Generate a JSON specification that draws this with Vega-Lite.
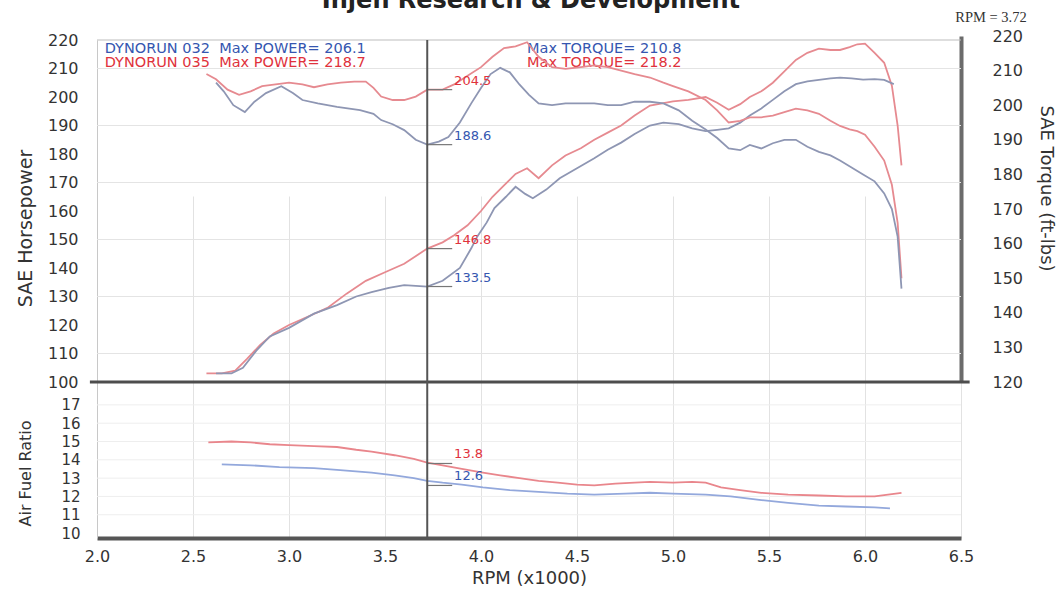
{
"$schema": "https://vega.github.io/schema/vega-lite/v6.json",
"width": 864, "height": 498,
"autosize": {"type": "none"},
"padding": {"left": 97, "top": 40, "right": 97, "bottom": 60},
"background": "white",
"config": {"view": {"stroke": null}, "font": "DejaVu Sans"},
"datasets": {
"hpgrid": [{"g":110},{"g":130},{"g":150},{"g":170},{"g":190},{"g":210}],
"afrgrid": [{"g":11},{"g":12},{"g":13},{"g":14},{"g":15},{"g":16},{"g":17}],
"hp": [
{"rpm":2.57,"v":103,"run":"035"},{"rpm":2.65,"v":103,"run":"035"},{"rpm":2.72,"v":104,"run":"035"},{"rpm":2.78,"v":108,"run":"035"},{"rpm":2.85,"v":113,"run":"035"},{"rpm":2.92,"v":117,"run":"035"},{"rpm":3.0,"v":120,"run":"035"},{"rpm":3.1,"v":123,"run":"035"},{"rpm":3.2,"v":126,"run":"035"},{"rpm":3.3,"v":131,"run":"035"},{"rpm":3.4,"v":135.5,"run":"035"},{"rpm":3.5,"v":138.5,"run":"035"},{"rpm":3.6,"v":141.5,"run":"035"},{"rpm":3.72,"v":146.8,"run":"035"},{"rpm":3.8,"v":149,"run":"035"},{"rpm":3.86,"v":151.5,"run":"035"},{"rpm":3.93,"v":155,"run":"035"},{"rpm":4.0,"v":160,"run":"035"},{"rpm":4.06,"v":165,"run":"035"},{"rpm":4.12,"v":169,"run":"035"},{"rpm":4.18,"v":173,"run":"035"},{"rpm":4.24,"v":175,"run":"035"},{"rpm":4.3,"v":171.5,"run":"035"},{"rpm":4.37,"v":176,"run":"035"},{"rpm":4.44,"v":179.5,"run":"035"},{"rpm":4.52,"v":182,"run":"035"},{"rpm":4.59,"v":185,"run":"035"},{"rpm":4.66,"v":187.5,"run":"035"},{"rpm":4.73,"v":190,"run":"035"},{"rpm":4.8,"v":193.5,"run":"035"},{"rpm":4.88,"v":197,"run":"035"},{"rpm":5.0,"v":198.5,"run":"035"},{"rpm":5.08,"v":199,"run":"035"},{"rpm":5.17,"v":200,"run":"035"},{"rpm":5.23,"v":198,"run":"035"},{"rpm":5.29,"v":195.5,"run":"035"},{"rpm":5.35,"v":197.5,"run":"035"},{"rpm":5.4,"v":200,"run":"035"},{"rpm":5.46,"v":202,"run":"035"},{"rpm":5.52,"v":205,"run":"035"},{"rpm":5.58,"v":209,"run":"035"},{"rpm":5.64,"v":213,"run":"035"},{"rpm":5.7,"v":215.5,"run":"035"},{"rpm":5.76,"v":217,"run":"035"},{"rpm":5.82,"v":216.5,"run":"035"},{"rpm":5.87,"v":216.5,"run":"035"},{"rpm":5.92,"v":217.5,"run":"035"},{"rpm":5.96,"v":218.5,"run":"035"},{"rpm":6.0,"v":218.7,"run":"035"},{"rpm":6.05,"v":215.5,"run":"035"},{"rpm":6.1,"v":212,"run":"035"},{"rpm":6.14,"v":204,"run":"035"},{"rpm":6.17,"v":190,"run":"035"},{"rpm":6.19,"v":176,"run":"035"},
{"rpm":2.62,"v":103,"run":"032"},{"rpm":2.7,"v":103,"run":"032"},{"rpm":2.76,"v":105,"run":"032"},{"rpm":2.83,"v":111,"run":"032"},{"rpm":2.9,"v":116,"run":"032"},{"rpm":3.0,"v":119,"run":"032"},{"rpm":3.13,"v":124,"run":"032"},{"rpm":3.25,"v":127,"run":"032"},{"rpm":3.35,"v":130,"run":"032"},{"rpm":3.43,"v":131.5,"run":"032"},{"rpm":3.52,"v":133,"run":"032"},{"rpm":3.6,"v":134,"run":"032"},{"rpm":3.72,"v":133.5,"run":"032"},{"rpm":3.8,"v":135.5,"run":"032"},{"rpm":3.89,"v":140,"run":"032"},{"rpm":3.95,"v":147,"run":"032"},{"rpm":3.98,"v":151,"run":"032"},{"rpm":4.03,"v":156,"run":"032"},{"rpm":4.07,"v":161,"run":"032"},{"rpm":4.13,"v":165,"run":"032"},{"rpm":4.18,"v":168.5,"run":"032"},{"rpm":4.23,"v":166,"run":"032"},{"rpm":4.27,"v":164.5,"run":"032"},{"rpm":4.34,"v":167.5,"run":"032"},{"rpm":4.41,"v":171.5,"run":"032"},{"rpm":4.5,"v":175,"run":"032"},{"rpm":4.59,"v":178.5,"run":"032"},{"rpm":4.66,"v":181.5,"run":"032"},{"rpm":4.73,"v":184,"run":"032"},{"rpm":4.8,"v":187,"run":"032"},{"rpm":4.88,"v":190,"run":"032"},{"rpm":4.95,"v":191,"run":"032"},{"rpm":5.03,"v":190.5,"run":"032"},{"rpm":5.1,"v":189,"run":"032"},{"rpm":5.17,"v":188,"run":"032"},{"rpm":5.23,"v":188.5,"run":"032"},{"rpm":5.29,"v":189,"run":"032"},{"rpm":5.35,"v":191,"run":"032"},{"rpm":5.4,"v":193.5,"run":"032"},{"rpm":5.46,"v":196,"run":"032"},{"rpm":5.52,"v":199,"run":"032"},{"rpm":5.58,"v":202,"run":"032"},{"rpm":5.64,"v":204.5,"run":"032"},{"rpm":5.7,"v":205.5,"run":"032"},{"rpm":5.76,"v":206,"run":"032"},{"rpm":5.82,"v":206.5,"run":"032"},{"rpm":5.87,"v":206.8,"run":"032"},{"rpm":5.93,"v":206.5,"run":"032"},{"rpm":5.99,"v":206.1,"run":"032"},{"rpm":6.05,"v":206.3,"run":"032"},{"rpm":6.1,"v":206,"run":"032"},{"rpm":6.15,"v":204.5,"run":"032"}
],
"tq": [
{"rpm":2.57,"v":209,"run":"035"},{"rpm":2.62,"v":207.5,"run":"035"},{"rpm":2.68,"v":204.5,"run":"035"},{"rpm":2.74,"v":203,"run":"035"},{"rpm":2.8,"v":204,"run":"035"},{"rpm":2.86,"v":205.5,"run":"035"},{"rpm":2.93,"v":206,"run":"035"},{"rpm":3.0,"v":206.5,"run":"035"},{"rpm":3.07,"v":206,"run":"035"},{"rpm":3.13,"v":205.2,"run":"035"},{"rpm":3.2,"v":206,"run":"035"},{"rpm":3.27,"v":206.5,"run":"035"},{"rpm":3.34,"v":206.8,"run":"035"},{"rpm":3.4,"v":206.8,"run":"035"},{"rpm":3.44,"v":205,"run":"035"},{"rpm":3.48,"v":202.5,"run":"035"},{"rpm":3.54,"v":201.5,"run":"035"},{"rpm":3.6,"v":201.5,"run":"035"},{"rpm":3.66,"v":202.5,"run":"035"},{"rpm":3.72,"v":204.5,"run":"035"},{"rpm":3.8,"v":204.5,"run":"035"},{"rpm":3.86,"v":206,"run":"035"},{"rpm":3.93,"v":208.5,"run":"035"},{"rpm":4.0,"v":211,"run":"035"},{"rpm":4.06,"v":214,"run":"035"},{"rpm":4.12,"v":216.5,"run":"035"},{"rpm":4.18,"v":217,"run":"035"},{"rpm":4.24,"v":218.2,"run":"035"},{"rpm":4.3,"v":214,"run":"035"},{"rpm":4.37,"v":211,"run":"035"},{"rpm":4.44,"v":210.5,"run":"035"},{"rpm":4.52,"v":211,"run":"035"},{"rpm":4.59,"v":211.5,"run":"035"},{"rpm":4.66,"v":211,"run":"035"},{"rpm":4.73,"v":210,"run":"035"},{"rpm":4.8,"v":209,"run":"035"},{"rpm":4.88,"v":208,"run":"035"},{"rpm":4.95,"v":206.5,"run":"035"},{"rpm":5.0,"v":205.5,"run":"035"},{"rpm":5.08,"v":204,"run":"035"},{"rpm":5.17,"v":201.5,"run":"035"},{"rpm":5.23,"v":198.5,"run":"035"},{"rpm":5.29,"v":195,"run":"035"},{"rpm":5.35,"v":195.5,"run":"035"},{"rpm":5.4,"v":196.5,"run":"035"},{"rpm":5.46,"v":196.5,"run":"035"},{"rpm":5.52,"v":197,"run":"035"},{"rpm":5.58,"v":198,"run":"035"},{"rpm":5.64,"v":199,"run":"035"},{"rpm":5.7,"v":198.5,"run":"035"},{"rpm":5.76,"v":197.5,"run":"035"},{"rpm":5.82,"v":195.5,"run":"035"},{"rpm":5.87,"v":194,"run":"035"},{"rpm":5.92,"v":193,"run":"035"},{"rpm":5.96,"v":192.5,"run":"035"},{"rpm":6.0,"v":191.5,"run":"035"},{"rpm":6.05,"v":188,"run":"035"},{"rpm":6.1,"v":184,"run":"035"},{"rpm":6.14,"v":177,"run":"035"},{"rpm":6.17,"v":166,"run":"035"},{"rpm":6.19,"v":150,"run":"035"},
{"rpm":2.62,"v":206.5,"run":"032"},{"rpm":2.66,"v":204,"run":"032"},{"rpm":2.71,"v":200,"run":"032"},{"rpm":2.77,"v":198,"run":"032"},{"rpm":2.82,"v":201,"run":"032"},{"rpm":2.88,"v":203.5,"run":"032"},{"rpm":2.96,"v":205.5,"run":"032"},{"rpm":3.02,"v":203.5,"run":"032"},{"rpm":3.07,"v":201.5,"run":"032"},{"rpm":3.15,"v":200.5,"run":"032"},{"rpm":3.25,"v":199.5,"run":"032"},{"rpm":3.37,"v":198.6,"run":"032"},{"rpm":3.44,"v":197.5,"run":"032"},{"rpm":3.48,"v":195.7,"run":"032"},{"rpm":3.54,"v":194.5,"run":"032"},{"rpm":3.6,"v":192.8,"run":"032"},{"rpm":3.66,"v":190,"run":"032"},{"rpm":3.72,"v":188.6,"run":"032"},{"rpm":3.78,"v":189.5,"run":"032"},{"rpm":3.83,"v":190.8,"run":"032"},{"rpm":3.89,"v":195,"run":"032"},{"rpm":3.95,"v":200.6,"run":"032"},{"rpm":4.0,"v":205,"run":"032"},{"rpm":4.05,"v":209,"run":"032"},{"rpm":4.1,"v":210.8,"run":"032"},{"rpm":4.15,"v":209.5,"run":"032"},{"rpm":4.2,"v":206,"run":"032"},{"rpm":4.25,"v":203,"run":"032"},{"rpm":4.3,"v":200.5,"run":"032"},{"rpm":4.37,"v":200,"run":"032"},{"rpm":4.44,"v":200.5,"run":"032"},{"rpm":4.52,"v":200.5,"run":"032"},{"rpm":4.59,"v":200.5,"run":"032"},{"rpm":4.66,"v":200,"run":"032"},{"rpm":4.73,"v":200,"run":"032"},{"rpm":4.8,"v":201,"run":"032"},{"rpm":4.88,"v":201,"run":"032"},{"rpm":4.95,"v":200.5,"run":"032"},{"rpm":5.03,"v":198.5,"run":"032"},{"rpm":5.1,"v":195.5,"run":"032"},{"rpm":5.17,"v":193,"run":"032"},{"rpm":5.23,"v":190.5,"run":"032"},{"rpm":5.29,"v":187.5,"run":"032"},{"rpm":5.35,"v":187,"run":"032"},{"rpm":5.4,"v":188.5,"run":"032"},{"rpm":5.46,"v":187.5,"run":"032"},{"rpm":5.52,"v":189,"run":"032"},{"rpm":5.58,"v":190,"run":"032"},{"rpm":5.64,"v":190,"run":"032"},{"rpm":5.7,"v":188,"run":"032"},{"rpm":5.76,"v":186.5,"run":"032"},{"rpm":5.82,"v":185.5,"run":"032"},{"rpm":5.87,"v":184,"run":"032"},{"rpm":5.93,"v":182,"run":"032"},{"rpm":5.99,"v":180,"run":"032"},{"rpm":6.05,"v":178,"run":"032"},{"rpm":6.1,"v":174.5,"run":"032"},{"rpm":6.14,"v":170,"run":"032"},{"rpm":6.17,"v":162,"run":"032"},{"rpm":6.19,"v":147,"run":"032"}
],
"afr": [
{"rpm":2.58,"v":14.95,"run":"035"},{"rpm":2.7,"v":15.0,"run":"035"},{"rpm":2.8,"v":14.95,"run":"035"},{"rpm":2.9,"v":14.85,"run":"035"},{"rpm":3.0,"v":14.8,"run":"035"},{"rpm":3.13,"v":14.75,"run":"035"},{"rpm":3.25,"v":14.7,"run":"035"},{"rpm":3.35,"v":14.55,"run":"035"},{"rpm":3.43,"v":14.45,"run":"035"},{"rpm":3.55,"v":14.25,"run":"035"},{"rpm":3.65,"v":14.05,"run":"035"},{"rpm":3.72,"v":13.85,"run":"035"},{"rpm":3.8,"v":13.7,"run":"035"},{"rpm":3.9,"v":13.5,"run":"035"},{"rpm":4.01,"v":13.3,"run":"035"},{"rpm":4.1,"v":13.15,"run":"035"},{"rpm":4.2,"v":13.0,"run":"035"},{"rpm":4.3,"v":12.85,"run":"035"},{"rpm":4.4,"v":12.75,"run":"035"},{"rpm":4.5,"v":12.65,"run":"035"},{"rpm":4.59,"v":12.6,"run":"035"},{"rpm":4.7,"v":12.7,"run":"035"},{"rpm":4.8,"v":12.75,"run":"035"},{"rpm":4.88,"v":12.8,"run":"035"},{"rpm":5.0,"v":12.75,"run":"035"},{"rpm":5.1,"v":12.8,"run":"035"},{"rpm":5.17,"v":12.75,"run":"035"},{"rpm":5.25,"v":12.5,"run":"035"},{"rpm":5.35,"v":12.35,"run":"035"},{"rpm":5.46,"v":12.2,"run":"035"},{"rpm":5.6,"v":12.1,"run":"035"},{"rpm":5.76,"v":12.05,"run":"035"},{"rpm":5.9,"v":12.0,"run":"035"},{"rpm":6.05,"v":12.0,"run":"035"},{"rpm":6.12,"v":12.1,"run":"035"},{"rpm":6.19,"v":12.2,"run":"035"},
{"rpm":2.65,"v":13.75,"run":"032"},{"rpm":2.8,"v":13.7,"run":"032"},{"rpm":2.95,"v":13.6,"run":"032"},{"rpm":3.13,"v":13.55,"run":"032"},{"rpm":3.25,"v":13.45,"run":"032"},{"rpm":3.43,"v":13.3,"run":"032"},{"rpm":3.55,"v":13.15,"run":"032"},{"rpm":3.65,"v":13.0,"run":"032"},{"rpm":3.72,"v":12.85,"run":"032"},{"rpm":3.8,"v":12.75,"run":"032"},{"rpm":3.9,"v":12.65,"run":"032"},{"rpm":4.01,"v":12.5,"run":"032"},{"rpm":4.15,"v":12.35,"run":"032"},{"rpm":4.3,"v":12.25,"run":"032"},{"rpm":4.45,"v":12.15,"run":"032"},{"rpm":4.59,"v":12.1,"run":"032"},{"rpm":4.75,"v":12.15,"run":"032"},{"rpm":4.88,"v":12.2,"run":"032"},{"rpm":5.0,"v":12.15,"run":"032"},{"rpm":5.17,"v":12.1,"run":"032"},{"rpm":5.3,"v":12.0,"run":"032"},{"rpm":5.46,"v":11.8,"run":"032"},{"rpm":5.6,"v":11.65,"run":"032"},{"rpm":5.76,"v":11.5,"run":"032"},{"rpm":5.9,"v":11.45,"run":"032"},{"rpm":6.05,"v":11.4,"run":"032"},{"rpm":6.13,"v":11.35,"run":"032"}
],
"curhp": [{"run":"035","v":146.8,"label":"146.8"},{"run":"032","v":133.5,"label":"133.5"}],
"curtq": [{"run":"035","v":204.5,"label":"204.5"},{"run":"032","v":188.6,"label":"188.6"}],
"curafr": [{"run":"035","v":13.8,"label":"13.8"},{"run":"032","v":12.6,"label":"12.6"}]
},
"layer": [
{
"layer": [
{"data": {"name": "hpgrid"}, "mark": {"type": "rule", "color": "#e4e4e4", "strokeWidth": 1},
"encoding": {"x": {"datum": 2}, "x2": {"datum": 6.5},
"y": {"field": "g", "type": "quantitative", "title": "SAE Horsepower", "scale": {"domain": [100, 220], "range": [342, 0], "nice": false, "zero": false},
"axis": {"orient": "left", "values": [100, 110, 120, 130, 140, 150, 160, 170, 180, 190, 200, 210, 220], "format": "d", "title": "SAE Horsepower",
"titleFont": "DejaVu Sans", "titleFontSize": 19, "titleFontWeight": "normal", "titleColor": "#333", "titleX": -72, "titleY": 188, "titleAngle": 270, "titleAlign": "center", "titleBaseline": "middle",
"labelFont": "DejaVu Sans", "labelFontSize": 16, "labelColor": "#333", "labelPadding": 19, "labelOverlap": false, "labelFlush": false,
"ticks": false, "grid": false, "domainColor": "#c8c8c8", "domainWidth": 1}}}},
{"data": {"values": [{}]}, "mark": {"type": "rule", "color": "#bdbdbd", "strokeWidth": 1},
"encoding": {"x": {"datum": 2}, "x2": {"datum": 6.5}, "y": {"datum": 220, "title": "SAE Horsepower", "axis": {"orient": "left"}}}},
{"data": {"name": "hp"}, "mark": {"type": "line", "strokeWidth": 1.8},
"encoding": {
"x": {"field": "rpm", "type": "quantitative",
"scale": {"domain": [2, 6.5], "nice": false, "zero": false},
"axis": {"values": [2, 2.5, 3, 3.5, 4, 4.5, 5, 5.5, 6, 6.5], "format": ".1f", "title": "RPM (x1000)",
"titleFont": "DejaVu Sans", "titleFontSize": 18, "titleFontWeight": "normal", "titleColor": "#333", "titlePadding": 5,
"labelFont": "DejaVu Sans", "labelFontSize": 16, "labelColor": "#333", "labelPadding": 10, "labelFlush": false, "labelOverlap": false,
"ticks": false, "grid": true, "gridColor": "#e2e2e2", "domainColor": "#555", "domainWidth": 4}},
"y": {"field": "v", "type": "quantitative", "title": "SAE Horsepower", "axis": {"orient": "left"}},
"stroke": {"field": "run", "type": "nominal", "scale": {"domain": ["032", "035"], "range": ["#8e96b3", "#e68a90"]}, "legend": null}}},
{"data": {"name": "curhp"}, "mark": {"type": "rule", "color": "#777", "strokeWidth": 1.2},
"encoding": {"x": {"datum": 3.72}, "x2": {"datum": 3.85}, "y": {"field": "v", "type": "quantitative", "title": "SAE Horsepower", "axis": {"orient": "left"}}}},
{"data": {"name": "curhp"}, "mark": {"type": "text", "align": "left", "baseline": "middle", "dy": -9, "fontSize": 13, "font": "DejaVu Sans"},
"encoding": {"x": {"datum": 3.86}, "y": {"field": "v", "type": "quantitative", "title": "SAE Horsepower", "axis": {"orient": "left"}}, "text": {"field": "label"},
"fill": {"field": "run", "type": "nominal", "scale": {"domain": ["032", "035"], "range": ["#3556b0", "#e0323c"]}, "legend": null}}},
{"data": {"values": [{}]}, "mark": {"type": "text", "text": "DYNORUN 032\u00a0 Max POWER= 206.1", "align": "left", "baseline": "middle", "fontSize": 14.5, "font": "DejaVu Sans", "color": "#3556b0"},
"encoding": {"x": {"datum": 2.04}, "y": {"datum": 216.8, "title": "SAE Horsepower", "axis": {"orient": "left"}}}},
{"data": {"values": [{}]}, "mark": {"type": "text", "text": "DYNORUN 035\u00a0 Max POWER= 218.7", "align": "left", "baseline": "middle", "fontSize": 14.5, "font": "DejaVu Sans", "color": "#e0323c"},
"encoding": {"x": {"datum": 2.04}, "y": {"datum": 211.9, "title": "SAE Horsepower", "axis": {"orient": "left"}}}},
{"data": {"values": [{}]}, "mark": {"type": "text", "text": "Max TORQUE= 210.8", "align": "left", "baseline": "middle", "fontSize": 14.5, "font": "DejaVu Sans", "color": "#3556b0"},
"encoding": {"x": {"datum": 4.24}, "y": {"datum": 216.8, "title": "SAE Horsepower", "axis": {"orient": "left"}}}},
{"data": {"values": [{}]}, "mark": {"type": "text", "text": "Max TORQUE= 218.2", "align": "left", "baseline": "middle", "fontSize": 14.5, "font": "DejaVu Sans", "color": "#e0323c"},
"encoding": {"x": {"datum": 4.24}, "y": {"datum": 211.9, "title": "SAE Horsepower", "axis": {"orient": "left"}}}},
{"data": {"values": [{}]}, "mark": {"type": "text", "text": "Injen Research & Development", "align": "center", "baseline": "alphabetic", "fontSize": 24, "fontWeight": "bold", "font": "DejaVu Sans", "color": "#222"},
"encoding": {"x": {"datum": 4.26}, "y": {"datum": 231.2, "title": "SAE Horsepower", "axis": {"orient": "left"}}}},
{"data": {"values": [{}]}, "mark": {"type": "text", "text": "RPM = 3.72", "align": "left", "baseline": "middle", "fontSize": 14.5, "font": "Liberation Serif", "color": "#333"},
"encoding": {"x": {"datum": 6.47}, "y": {"datum": 227.7, "title": "SAE Horsepower", "axis": {"orient": "left"}}}},
{"data": {"values": [{}]}, "mark": {"type": "rule", "color": "#4d4d4d", "strokeWidth": 3},
"encoding": {"x": {"datum": 1.963}, "x2": {"datum": 6.545}, "y": {"datum": 100, "title": "SAE Horsepower", "axis": {"orient": "left"}}}}
]
},
{
"layer": [
{"data": {"name": "tq"}, "mark": {"type": "line", "strokeWidth": 1.8},
"encoding": {
"x": {"field": "rpm", "type": "quantitative"},
"y": {"field": "v", "type": "quantitative", "title": "SAE Torque (ft-lbs)", "scale": {"domain": [120, 220], "range": [342, -4], "nice": false, "zero": false},
"axis": {"orient": "right", "values": [120, 130, 140, 150, 160, 170, 180, 190, 200, 210, 220], "format": "d", "title": "SAE Torque (ft-lbs)",
"titleFont": "DejaVu Sans", "titleFontSize": 18, "titleFontWeight": "normal", "titleColor": "#333", "titleX": 84, "titleY": 148, "titleAngle": 90, "titleAlign": "center", "titleBaseline": "middle",
"labelFont": "DejaVu Sans", "labelFontSize": 16, "labelColor": "#333", "labelPadding": 31, "labelOverlap": false, "labelFlush": false,
"ticks": false, "grid": false, "domainColor": "#6b6b6b", "domainWidth": 4}},
"stroke": {"field": "run", "type": "nominal", "scale": {"domain": ["032", "035"], "range": ["#8e96b3", "#e68a90"]}, "legend": null}}},
{"data": {"name": "curtq"}, "mark": {"type": "rule", "color": "#777", "strokeWidth": 1.2},
"encoding": {"x": {"datum": 3.72}, "x2": {"datum": 3.85}, "y": {"field": "v", "type": "quantitative", "title": "SAE Torque (ft-lbs)", "axis": {"orient": "right"}}}},
{"data": {"name": "curtq"}, "mark": {"type": "text", "align": "left", "baseline": "middle", "dy": -9, "fontSize": 13, "font": "DejaVu Sans"},
"encoding": {"x": {"datum": 3.86}, "y": {"field": "v", "type": "quantitative", "title": "SAE Torque (ft-lbs)", "axis": {"orient": "right"}}, "text": {"field": "label"},
"fill": {"field": "run", "type": "nominal", "scale": {"domain": ["032", "035"], "range": ["#3556b0", "#e0323c"]}, "legend": null}}}
]
},
{
"layer": [
{"data": {"name": "afrgrid"}, "mark": {"type": "rule", "color": "#eeeeee", "strokeWidth": 1},
"encoding": {"x": {"datum": 2}, "x2": {"datum": 6.5},
"y": {"field": "g", "type": "quantitative", "title": "Air Fuel Ratio", "scale": {"domain": [9.73, 18.25], "range": [498, 342], "nice": false, "zero": false},
"axis": {"orient": "left", "values": [10, 11, 12, 13, 14, 15, 16, 17], "format": "d", "title": "Air Fuel Ratio",
"titleFont": "DejaVu Sans", "titleFontSize": 16, "titleFontWeight": "normal", "titleColor": "#333", "titleX": -72, "titleY": 433, "titleAngle": 270, "titleAlign": "center", "titleBaseline": "middle",
"labelFont": "DejaVu Sans", "labelFontSize": 15, "labelColor": "#333", "labelPadding": 17, "labelOverlap": false, "labelFlush": false,
"ticks": false, "grid": false, "domainColor": "#c8c8c8", "domainWidth": 1}}}},
{"data": {"name": "afr"}, "mark": {"type": "line", "strokeWidth": 1.8},
"encoding": {"x": {"field": "rpm", "type": "quantitative"}, "y": {"field": "v", "type": "quantitative", "title": "Air Fuel Ratio", "axis": {"orient": "left"}},
"stroke": {"field": "run", "type": "nominal", "scale": {"domain": ["032", "035"], "range": ["#93a8dc", "#e9868c"]}, "legend": null}}},
{"data": {"name": "curafr"}, "mark": {"type": "rule", "color": "#777", "strokeWidth": 1.2},
"encoding": {"x": {"datum": 3.72}, "x2": {"datum": 3.85}, "y": {"field": "v", "type": "quantitative", "title": "Air Fuel Ratio", "axis": {"orient": "left"}}}},
{"data": {"name": "curafr"}, "mark": {"type": "text", "align": "left", "baseline": "middle", "dy": -9, "fontSize": 13, "font": "DejaVu Sans"},
"encoding": {"x": {"datum": 3.86}, "y": {"field": "v", "type": "quantitative", "title": "Air Fuel Ratio", "axis": {"orient": "left"}}, "text": {"field": "label"},
"fill": {"field": "run", "type": "nominal", "scale": {"domain": ["032", "035"], "range": ["#3556b0", "#e0323c"]}, "legend": null}}}
]
},
{"data": {"values": [{}]}, "mark": {"type": "rule", "color": "#555", "strokeWidth": 2},
"encoding": {"x": {"datum": 3.72}}}
],
"resolve": {"scale": {"y": "independent", "stroke": "independent"}, "axis": {"y": "independent"}}
}
